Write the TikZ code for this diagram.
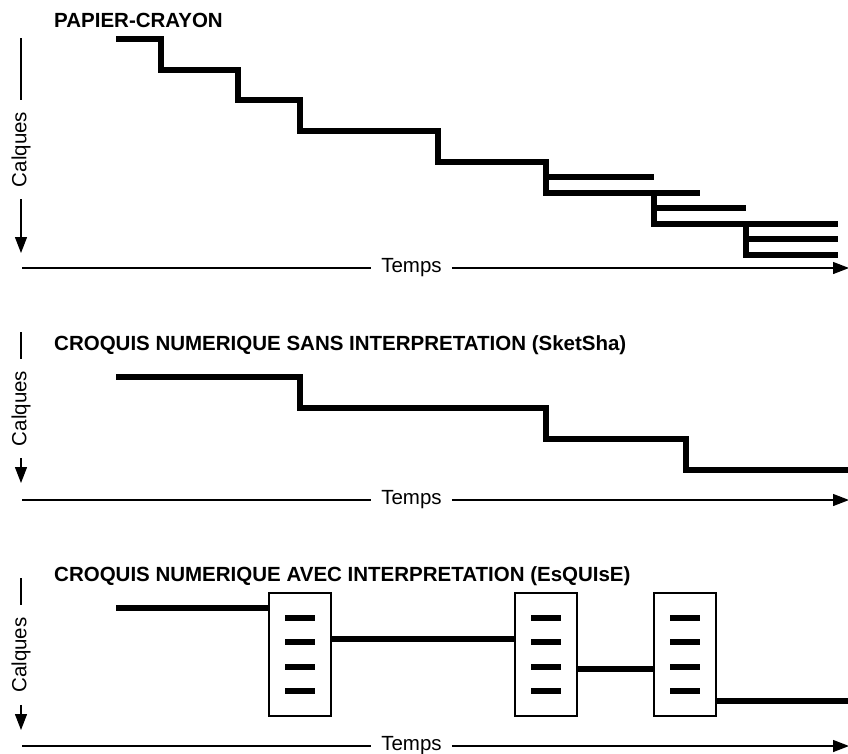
\documentclass[tikz,border=0pt]{standalone}
\usepackage{fontspec}
\setmainfont{Liberation Sans}
\usepackage{tikz}
\usetikzlibrary{arrows.meta,positioning,calc}

\begin{document}
\begin{tikzpicture}[
x=1pt, y=-1pt,
every node/.style={font=\fontsize{20.5}{24}\selectfont, inner sep=0pt},
title/.style={anchor=base west, font=\fontsize{20.5}{24}\selectfont\bfseries},
axis/.style={line width=1.3pt},
arr/.style={-{Triangle[length=16pt, width=12pt]}, line width=1.3pt},
ylab/.style={rotate=90, fill=white, inner xsep=12pt, inner ysep=2pt},
xlab/.style={fill=white, inner xsep=10pt, inner ysep=2pt},
layer/.style={line width=6pt, line cap=butt, line join=miter},
tool/.style={draw, line width=1.5pt, fill=white, minimum width=62pt, minimum height=123pt},
strokebar/.style={line width=6pt, line cap=butt}
]
\useasboundingbox (0,0) rectangle (848,753);

% Top panel (paper and pencil)
\node[title] (T1) at (54,27) {PAPIER-CRAYON};
\node[ylab] (C1) at (21,149.5) {Calques};
\draw[axis] (21,38) -- (C1.east); \draw[arr] (C1.west) -- (21,253);
\node[xlab] (X1) at (411.5,268) {Temps};
\draw[axis] (22,268) -- (X1); \draw[arr] (X1) -- (849,268);

\draw[layer] (116,39) -| (161,70) -| (238,100) -| (300,131) -| (438,162) -| (546,193) -- (700,193);
\draw[layer] (546,177) -- (654,177);
\draw[layer] (654,193) -- (654,224) -- (838,224);
\draw[layer] (654,208) -- (746,208);
\draw[layer] (746,224) -- (746,255) -- (838,255);
\draw[layer] (746,239) -- (838,239);

% Middle panel (SketSha)
\node[title] (T2) at (54,350) {CROQUIS NUMERIQUE SANS INTERPRETATION (SketSha)};
\node[ylab] (C2) at (21,408.5) {Calques};
\draw[axis] (21,332) -- (C2.east); \draw[arr] (C2.west) -- (21,483);
\node[xlab] (X2) at (411.5,500) {Temps};
\draw[axis] (22,500) -- (X2); \draw[arr] (X2) -- (849,500);

\draw[layer] (116,377) -| (300,408) -| (546,439) -| (686,470) -- (849,470);

% Bottom panel (EsQUIsE)
\node[title] (T3) at (54,581) {CROQUIS NUMERIQUE AVEC INTERPRETATION (EsQUIsE)};
\node[ylab] (C3) at (21,655) {Calques};
\draw[axis] (21,578) -- (C3.east); \draw[arr] (C3.west) -- (21,730);
\node[xlab] (X3) at (411.5,746) {Temps};
\draw[axis] (22,746) -- (X3); \draw[arr] (X3) -- (849,746);

\node[tool] (box1) at (300,654.5) {};
\node[tool] (box2) at (546,654.5) {};
\node[tool] (box3) at (685,654.5) {};
\foreach \b in {box1,box2,box3}
  \foreach \dy in {-36.5,-12.5,12.5,36.5}
    \draw[strokebar] ($(\b.center)+(-15,\dy)$) -- ++(30,0);

\coordinate (L0) at (116,608);
\coordinate (L4) at (849,701);
\draw[layer] (L0) -- (L0 -| box1.west);
\draw[layer] (box1.east |- 0,639) -- (box2.west |- 0,639);
\draw[layer] (box2.east |- 0,669) -- (box3.west |- 0,669);
\draw[layer] (box3.east |- L4) -- (L4);

\end{tikzpicture}
\end{document}
